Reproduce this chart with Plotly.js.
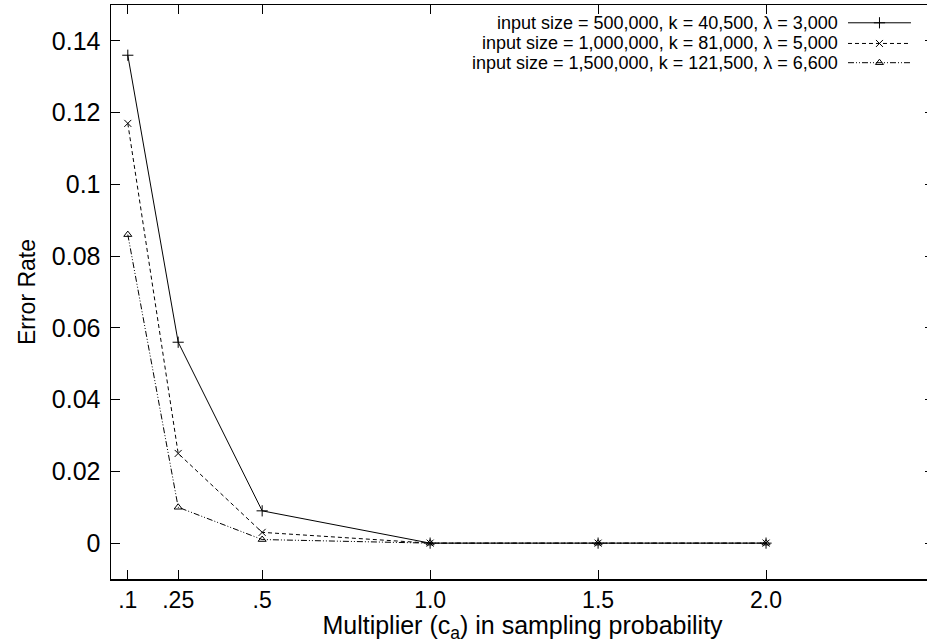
<!DOCTYPE html>
<html>
<head>
<meta charset="utf-8">
<script src="https://cdn.plot.ly/plotly-3.0.1.min.js"></script>
<style>html,body{margin:0;padding:0;overflow:hidden;background:#fff;}#chart{width:940px;height:643px;}</style>
</head>
<body>
<div id="chart"></div>
<script>
var multipliers = [0.1, 0.25, 0.5, 1.0, 1.5, 2.0];
var errSize500k = [0.136, 0.056, 0.009, 0, 0, 0];
var errSize1000k = [0.117, 0.025, 0.003, 0, 0, 0];
var errSize1500k = [0.086, 0.010, 0.001, 0, 0, 0];
var seriesNames = [
  'input size = 500,000, k = 40,500, \u03bb = 3,000',
  'input size = 1,000,000, k = 81,000, \u03bb = 5,000',
  'input size = 1,500,000, k = 121,500, \u03bb = 6,600'
];
var xTickVals = [0.1, 0.25, 0.5, 1.0, 1.5, 2.0];
var xTickText = ['.1', '.25', '.5', '1.0', '1.5', '2.0'];
var yTickVals = [0, 0.02, 0.04, 0.06, 0.08, 0.1, 0.12, 0.14];
var yTickText = ['0', '0.02', '0.04', '0.06', '0.08', '0.1', '0.12', '0.14'];

var FONT = 'Liberation Sans, Arial, Helvetica, sans-serif';
var styles = [
  {dash: 'solid', symbol: 'cross-thin-open', size: 8},
  {dash: '4px,3px', symbol: 'x-thin-open', size: 7},
  {dash: '6px,2px,1px,2px,1px,2px', symbol: 'triangle-up-open', size: 7}
];
var seriesData = [errSize500k, errSize1000k, errSize1500k];

var traces = [];
seriesData.forEach(function (ys, i) {
  traces.push({
    x: multipliers, y: ys, type: 'scatter', mode: 'lines+markers',
    name: seriesNames[i], showlegend: false,
    line: {color: '#000', width: 1, dash: styles[i].dash},
    marker: {symbol: styles[i].symbol, size: styles[i].size, color: '#000', line: {color: '#000', width: 1}}
  });
});
// gnuplot-style key: sample line with marker to the right of the text
var legendRowsY = [0.969, 0.933, 0.8995];
seriesData.forEach(function (ys, i) {
  traces.push({
    x: [0, 0.5, 1], y: [legendRowsY[i], legendRowsY[i], legendRowsY[i]],
    xaxis: 'x2', yaxis: 'y2', type: 'scatter', mode: 'lines', showlegend: false, hoverinfo: 'skip',
    line: {color: '#000', width: 1, dash: styles[i].dash}
  });
  traces.push({
    x: [0.5], y: [legendRowsY[i]],
    xaxis: 'x2', yaxis: 'y2', type: 'scatter', mode: 'markers', showlegend: false, hoverinfo: 'skip',
    marker: {symbol: styles[i].symbol, size: styles[i].size, color: '#000', line: {color: '#000', width: 1}}
  });
});

var annotations = seriesNames.map(function (t, i) {
  return {
    xref: 'paper', yref: 'paper', x: 0.886, y: legendRowsY[i], text: t, showarrow: false,
    xanchor: 'right', yanchor: 'middle', font: {family: FONT, size: 18, color: '#000'}
  };
});

var layout = {
  width: 940, height: 643,
  margin: {l: 111, r: 6, t: 5, b: 64},
  paper_bgcolor: '#fff', plot_bgcolor: '#fff',
  font: {family: FONT, color: '#000', size: 20},
  showlegend: false,
  xaxis: {
    domain: [0, 1], range: [0.05, 2.5], tickmode: 'array', tickvals: xTickVals, ticktext: xTickText,
    ticks: 'inside', ticklen: 9, tickwidth: 1, tickcolor: '#000',
    showline: true, linecolor: '#000', linewidth: 1.5, mirror: 'ticks',
    showgrid: false, zeroline: false, tickfont: {size: 23},
    title: {text: 'Multiplier (c<sub>a</sub>) in sampling probability', font: {size: 25}, standoff: 0}
  },
  yaxis: {
    domain: [0, 1], range: [-0.01, 0.15], tickmode: 'array', tickvals: yTickVals, ticktext: yTickText,
    ticks: 'inside', ticklen: 9, tickwidth: 1, tickcolor: '#000',
    showline: true, linecolor: '#000', linewidth: 1.5, mirror: 'ticks',
    showgrid: false, zeroline: false, tickfont: {size: 25}, ticklabelstandoff: 4,
    title: {text: 'Error Rate', font: {size: 23}, standoff: 10}
  },
  xaxis2: {domain: [0.8955, 0.972], range: [0, 1], visible: false, anchor: 'y2', fixedrange: true},
  yaxis2: {domain: [0, 1], range: [0, 1], visible: false, anchor: 'x2', fixedrange: true},
  annotations: annotations
};

Plotly.newPlot('chart', traces, layout, {displayModeBar: false, staticPlot: true});
</script>
</body>
</html>
